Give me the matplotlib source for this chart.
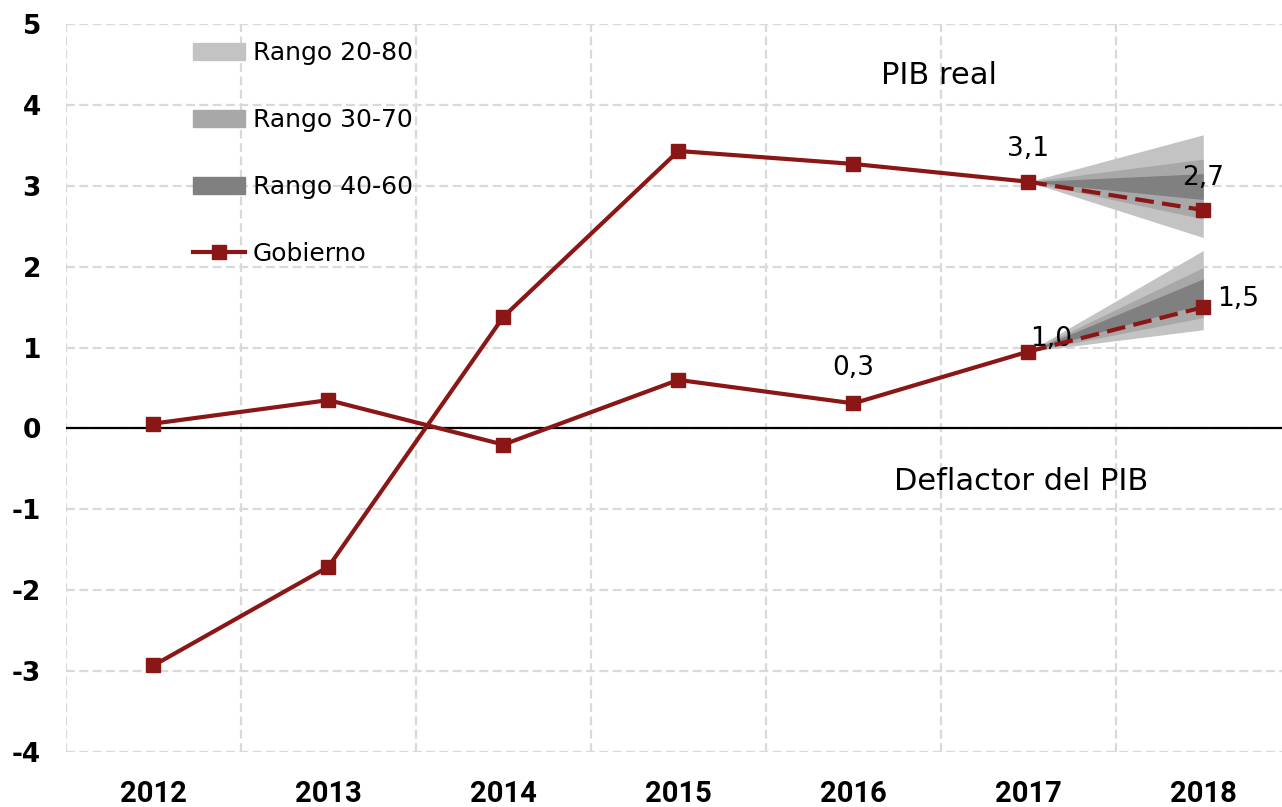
import numpy as np
import matplotlib.pyplot as plt
from matplotlib.patches import Patch
from matplotlib.lines import Line2D

# ---- datos ----
years = ['2012', '2013', '2014', '2015', '2016', '2017', '2018']
pib_real = [-2.93, -1.71, 1.38, 3.43, 3.27, 3.05]
pib_real_prev = 2.70
deflactor = [0.06, 0.35, -0.20, 0.60, 0.31, 0.95]
deflactor_prev = 1.50

# bandas del abanico en 2018 (inferior, superior)
pib_20_80 = (2.36, 3.63)
pib_30_70 = (2.59, 3.33)
pib_40_60 = (2.83, 3.15)
def_20_80 = (1.22, 2.20)
def_30_70 = (1.37, 1.99)
def_40_60 = (1.54, 1.85)

rojo = '#8B1616'
gris_claro = '#c3c3c3'
gris_medio = '#a8a8a8'
gris_oscuro = '#808080'

fig = plt.figure(figsize=(12.82, 8.07), dpi=100)
ax = fig.add_axes([66 / 1282, 55 / 807, 1 - 66 / 1282, (752 - 24) / 807])

x = np.arange(len(years))

# abanicos
def abanico(x0, v0, bandas):
    for (lo, hi), col in zip(bandas, [gris_claro, gris_medio, gris_oscuro]):
        ax.fill_between([x0, x0 + 1], [v0, lo], [v0, hi], color=col, lw=0, zorder=2)

abanico(5, pib_real[-1], [pib_20_80, pib_30_70, pib_40_60])
abanico(5, deflactor[-1], [def_20_80, def_30_70, def_40_60])

# series
for serie, prev in [(pib_real, pib_real_prev), (deflactor, deflactor_prev)]:
    ax.plot(x[:6], serie, color=rojo, lw=3, zorder=4)
    ax.plot([5, 6], [serie[-1], prev], color=rojo, lw=3, ls=(0, (4.5, 2)), zorder=4)
    ax.plot(x, serie + [prev], ls='none', marker='s', ms=10, color=rojo, zorder=5)

ax.axhline(0, color='black', lw=1.6, zorder=3)

# etiquetas
ax.text(5, 3.46, '3,1', ha='center', va='center', fontsize=19)
ax.text(6, 3.09, '2,7', ha='center', va='center', fontsize=19)
ax.text(5.13, 1.11, '1,0', ha='center', va='center', fontsize=19)
ax.text(6.08, 1.6, '1,5', ha='left', va='center', fontsize=19)
ax.text(4, 0.75, '0,3', ha='center', va='center', fontsize=19)
ax.text(4.16, 4.36, 'PIB real', ha='left', va='center', fontsize=22)
ax.text(4.23, -0.65, 'Deflactor del PIB', ha='left', va='center', fontsize=22)

# ejes
ax.set_yticks(range(-4, 6))
ax.set_xticks(x)
ax.set_xticklabels(years, family=['Roboto', 'DejaVu Sans'],
                   fontsize=21, fontweight='bold')
ax.set_yticklabels([str(v) for v in range(-4, 6)], fontsize=19, fontweight='bold')
ax.set_xticks(np.arange(-0.5, 7, 1), minor=True)
ax.set_xlim(-0.5, 6.45)
ax.set_ylim(-4, 5)
ax.tick_params(axis='both', which='both', length=0)
ax.tick_params(axis='y', pad=18)
ax.tick_params(axis='x', pad=20)
ax.grid(True, axis='y', which='major', color='#d9d9d9', ls=(0, (4, 2)), lw=1.6, zorder=0)
ax.grid(True, axis='x', which='minor', color='#d9d9d9', ls=(0, (4, 2)), lw=1.6, zorder=0)
for s in ax.spines.values():
    s.set_visible(False)

# leyenda
handles = [Patch(color=gris_claro), Patch(color=gris_medio), Patch(color=gris_oscuro),
           Line2D([], [], color=rojo, lw=3, marker='s', ms=10)]
labels = ['Rango 20-80', 'Rango 30-70', 'Rango 40-60', 'Gobierno']
ax.legend(handles, labels, loc='upper left', bbox_to_anchor=(193 / 1282, 1 - 41 / 807),
          bbox_transform=fig.transFigure, frameon=False, fontsize=18,
          handlelength=2.1, handletextpad=0.3, labelspacing=1.72, borderpad=0,
          borderaxespad=0)

fig.savefig('out.png', dpi=100)
